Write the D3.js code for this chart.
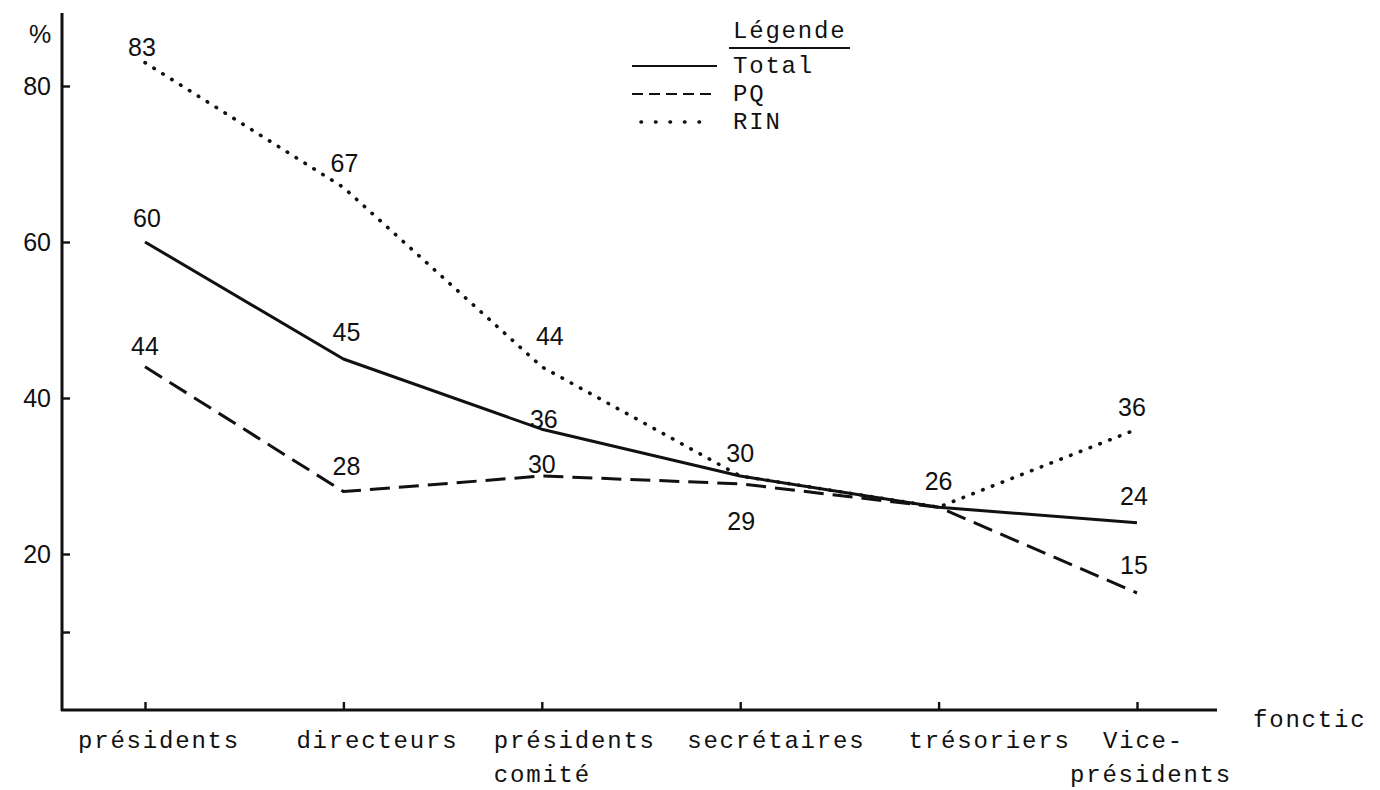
<!DOCTYPE html>
<html>
<head>
<meta charset="utf-8">
<script src="https://cdn.jsdelivr.net/npm/d3@7"></script>
<style>
  html, body { margin: 0; padding: 0; background: #fff; }
  svg { display: block; }
  .mono { font-family: "Liberation Mono", monospace; font-size: 24px; letter-spacing: 1.8px; fill: #111; }
  .num { font-family: "Liberation Sans", Arial, sans-serif; font-size: 25px; fill: #111; }
</style>
</head>
<body>
<svg id="chart" width="1380" height="790"></svg>
<script>
// ---------- data ----------
const categories = ["présidents", "directeurs", "présidents\ncomité", "secrétaires", "trésoriers", "Vice-\nprésidents"];
const totalValues = [60, 45, 36, 30, 26, 24];
const pqValues    = [44, 28, 30, 29, 26, 15];
const rinValues   = [83, 67, 44, 30, 26, 36];
const yTickValues = [10, 20, 40, 60, 80];
const yTickLabels = ["", "20", "40", "60", "80"];
const seriesNames = ["Total", "PQ", "RIN"];
const legendTitle = "Légende";
const xAxisTitle = "fonctic";
const yAxisTitle = "%";

// ---------- layout / style (not data) ----------
const axisX = 62, axisY = 710, axisTopY = 13, axisRightX = 1217;
const x = d3.scalePoint().domain(categories).range([145, 1137]);
const y = d3.scaleLinear().domain([0, 80]).range([axisY, 86]);

const styles = {
  Total: { dash: null, width: 3, cap: "butt" },
  PQ:    { dash: "20,9", width: 3, cap: "butt" },
  RIN:   { dash: "0.5,10", width: 3.6, cap: "round" }
};
// value-label vertical offsets (px from point) and horizontal nudges
const labelDy = {
  Total: [-15, -18, -1, -14, -17, -18],
  PQ:    [-12, -17, -3, 46, null, -19],
  RIN:   [-7, -15, -22, null, null, -13]
};
const labelDx = {
  Total: [2, 3, 2, 0, 0, -3],
  PQ:    [0, 3, 0, 1, 0, -3],
  RIN:   [-3, 1, 8, 0, 0, -5]
};
// category label start offsets relative to tick
const catDx = [-67, -47, -48, -53, -30, -34];
const catDx2 = [0, 0, -48, 0, 0, -67];

const svg = d3.select("#chart");

// ---------- axes ----------
const yAxis = d3.axisLeft(y)
  .tickValues(yTickValues)
  .tickSizeInner(-8).tickSizeOuter(0).tickPadding(11)
  .tickFormat((d, i) => yTickLabels[i]);
const gy = svg.append("g").attr("transform", `translate(${axisX},0)`).call(yAxis);
gy.select(".domain").remove();
gy.selectAll(".tick line").attr("stroke", "#111").attr("stroke-width", 2.4);
gy.selectAll(".tick text").attr("class", "num").attr("font-size", null).attr("font-family", null).attr("fill", null);

const xAxis = d3.axisBottom(x).tickSizeInner(-8).tickSizeOuter(0).tickFormat("");
const gx = svg.append("g").attr("transform", `translate(0,${axisY})`).call(xAxis);
gx.select(".domain").remove();
gx.selectAll(".tick line").attr("stroke", "#111").attr("stroke-width", 2.4);

// axis lines
svg.append("line").attr("x1", axisX).attr("x2", axisX).attr("y1", axisTopY).attr("y2", axisY + 1)
  .attr("stroke", "#111").attr("stroke-width", 3);
svg.append("line").attr("x1", axisX - 1).attr("x2", axisRightX).attr("y1", axisY).attr("y2", axisY)
  .attr("stroke", "#111").attr("stroke-width", 2.8);

// category labels
categories.forEach((c, i) => {
  const lines = c.split("\n");
  const t = svg.append("text").attr("class", "mono").attr("x", x(c) + catDx[i]).attr("y", 748);
  lines.forEach((ln, j) => {
    t.append("tspan").attr("x", x(c) + (j === 0 ? catDx[i] : catDx2[i])).attr("y", 748 + j * 34).text(ln);
  });
});

svg.append("text").attr("class", "mono").attr("x", axisRightX + 36).attr("y", 727).text(xAxisTitle);
svg.append("text").attr("class", "num").attr("x", 29).attr("y", 43).attr("font-size", 19).text(yAxisTitle);

// ---------- lines ----------
const seriesData = { Total: totalValues, PQ: pqValues, RIN: rinValues };
const line = d3.line().x((d, i) => x(categories[i])).y(d => y(d)).curve(d3.curveLinear);

seriesNames.forEach(name => {
  const st = styles[name];
  svg.append("path").datum(seriesData[name])
    .attr("d", line)
    .attr("fill", "none").attr("stroke", "#111")
    .attr("stroke-width", st.width)
    .attr("stroke-linecap", st.cap)
    .attr("stroke-linejoin", "round")
    .attr("stroke-dasharray", st.dash);
});

// ---------- value labels ----------
seriesNames.forEach(name => {
  seriesData[name].forEach((v, i) => {
    const dy = labelDy[name][i];
    if (dy === null) return;
    svg.append("text").attr("class", "num")
      .attr("text-anchor", "middle")
      .attr("x", x(categories[i]) + labelDx[name][i])
      .attr("y", y(v) + dy)
      .text(v);
  });
});

// ---------- legend ----------
const lg = svg.append("g");
lg.append("text").attr("class", "mono").attr("x", 733).attr("y", 38).text(legendTitle);
lg.append("line").attr("x1", 729).attr("x2", 850).attr("y1", 48).attr("y2", 48)
  .attr("stroke", "#111").attr("stroke-width", 1.8);
seriesNames.forEach((name, i) => {
  const st = styles[name];
  const ly = 66 + i * 28;
  lg.append("line")
    .attr("x1", name === "RIN" ? 641 : 632).attr("x2", name === "Total" ? 717 : 713)
    .attr("y1", ly).attr("y2", ly)
    .attr("stroke", "#111").attr("stroke-width", name === "RIN" ? 3.6 : 2.2)
    .attr("stroke-linecap", st.cap)
    .attr("stroke-dasharray", name === "PQ" ? "11,6" : (name === "RIN" ? "0.5,14" : null));
  lg.append("text").attr("class", "mono").attr("x", 733).attr("y", ly + 7).text(name);
});
</script>
</body>
</html>
